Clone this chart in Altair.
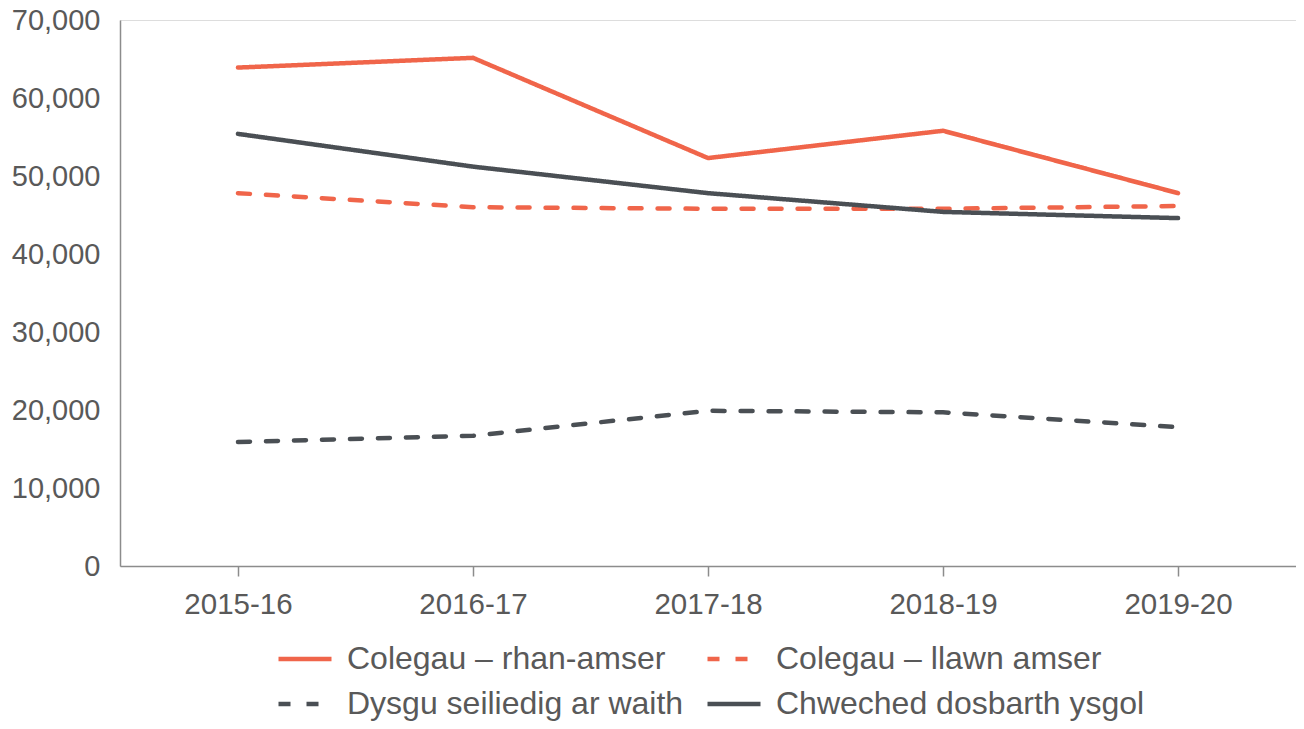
import altair as alt
import pandas as pd

years = ["2015-16", "2016-17", "2017-18", "2018-19", "2019-20"]
series_names = [
    "Colegau – rhan-amser",
    "Colegau – llawn amser",
    "Dysgu seiliedig ar waith",
    "Chweched dosbarth ysgol",
]
rhan_amser = [63900, 65150, 52300, 55800, 47800]
llawn_amser = [47800, 46000, 45800, 45800, 46150]
dysgu = [15900, 16700, 19900, 19700, 17800]
chweched = [55400, 51200, 47800, 45400, 44600]

colors = ["#F0654A", "#F0654A", "#4A4F54", "#4A4F54"]
dashes = [[1, 0], [12, 16], [12, 16], [1, 0]]

rows = []
for name, vals in zip(series_names, [rhan_amser, llawn_amser, dysgu, chweched]):
    for y, v in zip(years, vals):
        rows.append({"Blwyddyn": y, "Cyfres": name, "Nifer": v})
df = pd.DataFrame(rows)

chart = (
    alt.Chart(df)
    .mark_line(strokeWidth=4.5, strokeCap="round")
    .encode(
        x=alt.X(
            "Blwyddyn:N",
            sort=years,
            title=None,
            scale=alt.Scale(padding=0.502),
            axis=alt.Axis(
                labelAngle=0,
                labelFont="Liberation Sans",
                labelFontSize=29.5,
                labelColor="#595959",
                labelPadding=14,
                domainColor="#8c8c8c",
                domainWidth=1.5,
                tickColor="#8c8c8c",
                tickWidth=1.5,
                tickSize=10,
                grid=False,
            ),
        ),
        y=alt.Y(
            "Nifer:Q",
            title=None,
            scale=alt.Scale(domain=[0, 70000], nice=False),
            axis=alt.Axis(
                values=[0, 10000, 20000, 30000, 40000, 50000, 60000, 70000],
                format=",.0f",
                labelFont="Liberation Sans",
                labelFontSize=29,
                labelColor="#595959",
                labelPadding=20,
                ticks=False,
                domainColor="#8c8c8c",
                domainWidth=1.5,
                grid=False,
            ),
        ),
        color=alt.Color(
            "Cyfres:N",
            sort=series_names,
            scale=alt.Scale(domain=series_names, range=colors),
            legend=alt.Legend(
                title=None,
                orient="none",
                legendX=156,
                legendY=610,
                columns=2,
                direction="horizontal",
                symbolType="stroke",
                symbolSize=2809,
                symbolStrokeWidth=4.5,
                labelFont="Liberation Sans",
                labelFontSize=32,
                labelColor="#595959",
                labelOffset=13,
                labelLimit=600,
                rowPadding=0,
                columnPadding=14,
            ),
        ),
        strokeDash=alt.StrokeDash(
            "Cyfres:N",
            sort=series_names,
            scale=alt.Scale(domain=series_names, range=dashes),
            legend=None,
        ),
    )
    .properties(
        width=1176,
        height=546,
        padding={"left": 112, "top": 12, "right": 0, "bottom": 155},
        autosize=alt.AutoSizeParams(type="none"),
    )
    .configure_view(stroke=None)
    .configure(background="white")
)

chart.save("out.html", embed_options={"renderer": "svg", "actions": False})
